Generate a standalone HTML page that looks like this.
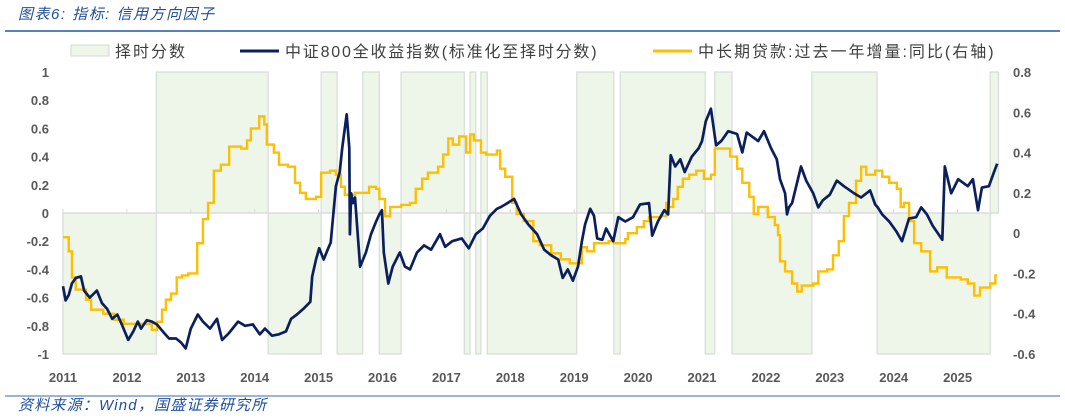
<!DOCTYPE html>
<html><head><meta charset="utf-8"><style>
body{margin:0;background:#fff;width:1065px;height:415px;overflow:hidden;font-family:"Liberation Sans","Noto Sans CJK SC",sans-serif}
svg text{font-family:"Liberation Sans","Noto Sans CJK SC",sans-serif}
</style></head><body>
<svg id="chart" width="1065" height="415" viewBox="0 0 1065 415">
<text x="18" y="19" font-size="15" font-style="italic" fill="#1f4e9c" letter-spacing="1.5">图表6:  指标:  信用方向因子</text>
<line x1="5" y1="31" x2="1060" y2="31" stroke="#1f56a8" stroke-width="1.5"/>
<g id="plot"></g>
<g>
<rect x="71" y="45" width="38" height="11" fill="#eef6ea" stroke="#d4d8d4"/>
<text x="115" y="57" font-size="16" fill="#404040" letter-spacing="2">择时分数</text>
<line x1="240" y1="51" x2="279" y2="51" stroke="#0b1f5c" stroke-width="3"/>
<text x="285" y="57" font-size="16" fill="#404040" letter-spacing="1.8">中证800全收益指数(标准化至择时分数)</text>
<line x1="653" y1="51" x2="692" y2="51" stroke="#ffbf00" stroke-width="3"/>
<text x="698" y="57" font-size="16" fill="#404040" letter-spacing="2">中长期贷款:过去一年增量:同比(右轴)</text>
</g>
<line x1="5" y1="396" x2="1060" y2="396" stroke="#7a9ccc" stroke-width="1.5"/>
<text x="18" y="410" font-size="15" font-style="italic" fill="#1f4e9c" letter-spacing="1.2">资料来源：Wind，国盛证券研究所</text>
</svg>
<script>
const scoreBreaks=[2011.0,2012.46,2014.21,2015.04,2015.29,2015.69,2015.95,2016.29,2017.28,2017.37,2017.46,2017.54,2017.64,2019.04,2019.62,2019.72,2021.05,2021.20,2021.47,2022.72,2023.74,2025.51,2025.64];
const scoreValues=[-1,1,-1,1,-1,1,-1,1,-1,1,-1,1,-1,1,-1,1,-1,1,-1,1,-1,1];
const loanDates=[2011.00,2011.09,2011.14,2011.20,2011.36,2011.44,2011.63,2011.80,2011.95,2012.39,2012.47,2012.55,2012.61,2012.69,2012.78,2012.86,2012.96,2013.10,2013.19,2013.27,2013.36,2013.47,2013.60,2013.79,2013.88,2013.94,2014.07,2014.15,2014.19,2014.30,2014.38,2014.52,2014.63,2014.71,2014.80,2014.96,2015.04,2015.18,2015.27,2015.35,2015.41,2015.57,2015.79,2015.90,2015.95,2016.04,2016.12,2016.29,2016.43,2016.52,2016.62,2016.71,2016.87,2016.95,2017.03,2017.10,2017.20,2017.31,2017.37,2017.43,2017.54,2017.62,2017.79,2017.84,2017.92,2018.03,2018.10,2018.21,2018.36,2018.46,2018.64,2018.79,2018.93,2019.12,2019.20,2019.31,2019.54,2019.62,2019.80,2019.84,2019.98,2020.09,2020.17,2020.36,2020.44,2020.47,2020.55,2020.62,2020.70,2020.80,2020.91,2021.03,2021.14,2021.20,2021.36,2021.44,2021.55,2021.63,2021.74,2021.81,2021.88,2022.03,2022.14,2022.19,2022.22,2022.30,2022.41,2022.49,2022.56,2022.67,2022.74,2022.82,2022.96,2023.05,2023.14,2023.22,2023.30,2023.41,2023.49,2023.57,2023.71,2023.82,2023.93,2024.05,2024.11,2024.16,2024.24,2024.32,2024.43,2024.57,2024.68,2024.83,2025.05,2025.16,2025.26,2025.35,2025.51,2025.59];
const loanValues=[-0.02,-0.09,-0.22,-0.28,-0.33,-0.38,-0.40,-0.43,-0.45,-0.48,-0.44,-0.38,-0.33,-0.30,-0.22,-0.21,-0.20,-0.05,0.07,0.15,0.31,0.34,0.43,0.42,0.46,0.52,0.58,0.54,0.44,0.40,0.34,0.33,0.25,0.20,0.17,0.18,0.30,0.31,0.29,0.23,0.19,0.20,0.23,0.22,0.17,0.085,0.13,0.14,0.15,0.22,0.27,0.30,0.33,0.39,0.47,0.44,0.48,0.40,0.49,0.46,0.40,0.39,0.41,0.32,0.28,0.15,0.095,0.06,-0.04,-0.06,-0.10,-0.13,-0.15,-0.07,-0.09,-0.05,-0.04,-0.05,-0.03,0.00,0.03,0.06,0.08,0.085,0.15,0.13,0.17,0.23,0.27,0.29,0.31,0.27,0.29,0.42,0.42,0.38,0.32,0.25,0.18,0.095,0.13,0.08,0.04,-0.01,-0.14,-0.19,-0.25,-0.29,-0.26,-0.26,-0.25,-0.19,-0.18,-0.11,-0.04,0.085,0.15,0.26,0.33,0.29,0.31,0.28,0.25,0.22,0.13,0.15,0.06,-0.05,-0.09,-0.19,-0.17,-0.22,-0.23,-0.25,-0.31,-0.27,-0.25,-0.21];
const csiDates=[2011.00,2011.04,2011.09,2011.14,2011.20,2011.28,2011.33,2011.42,2011.53,2011.61,2011.69,2011.77,2011.85,2011.92,2012.02,2012.10,2012.17,2012.22,2012.31,2012.39,2012.47,2012.58,2012.66,2012.77,2012.85,2012.92,2013.00,2013.11,2013.19,2013.30,2013.41,2013.49,2013.60,2013.74,2013.85,2013.97,2014.08,2014.16,2014.27,2014.38,2014.49,2014.57,2014.66,2014.76,2014.87,2014.90,2014.96,2015.01,2015.08,2015.15,2015.19,2015.23,2015.27,2015.33,2015.37,2015.41,2015.44,2015.48,2015.49,2015.51,2015.54,2015.57,2015.65,2015.74,2015.82,2015.90,2015.95,2015.99,2016.02,2016.09,2016.16,2016.27,2016.35,2016.43,2016.54,2016.65,2016.76,2016.90,2016.98,2017.09,2017.24,2017.35,2017.46,2017.57,2017.68,2017.79,2017.84,2017.92,2018.06,2018.17,2018.28,2018.42,2018.53,2018.64,2018.75,2018.82,2018.90,2018.98,2019.06,2019.12,2019.17,2019.25,2019.31,2019.36,2019.44,2019.50,2019.61,2019.69,2019.80,2019.92,2020.03,2020.17,2020.22,2020.31,2020.41,2020.47,2020.51,2020.58,2020.66,2020.73,2020.84,2020.95,2021.00,2021.06,2021.14,2021.22,2021.30,2021.41,2021.55,2021.63,2021.70,2021.88,2021.97,2022.08,2022.17,2022.22,2022.30,2022.33,2022.36,2022.41,2022.55,2022.63,2022.74,2022.82,2022.89,2023.00,2023.11,2023.22,2023.38,2023.49,2023.63,2023.71,2023.75,2023.82,2023.93,2024.04,2024.13,2024.24,2024.35,2024.43,2024.52,2024.61,2024.76,2024.80,2024.90,2025.01,2025.16,2025.24,2025.32,2025.38,2025.49,2025.57,2025.62];
const csiValues=[-0.52,-0.62,-0.58,-0.50,-0.46,-0.45,-0.55,-0.60,-0.55,-0.64,-0.68,-0.75,-0.72,-0.79,-0.90,-0.84,-0.77,-0.82,-0.76,-0.77,-0.79,-0.85,-0.89,-0.89,-0.92,-0.96,-0.82,-0.72,-0.77,-0.82,-0.75,-0.90,-0.85,-0.77,-0.80,-0.79,-0.86,-0.82,-0.87,-0.86,-0.84,-0.75,-0.72,-0.68,-0.63,-0.45,-0.33,-0.25,-0.33,-0.25,-0.21,-0.01,0.19,0.29,0.46,0.60,0.70,0.46,-0.15,0.14,0.07,0.11,-0.38,-0.28,-0.15,-0.06,-0.01,0.02,-0.28,-0.50,-0.38,-0.28,-0.38,-0.40,-0.28,-0.23,-0.26,-0.15,-0.24,-0.20,-0.18,-0.25,-0.15,-0.11,-0.02,0.03,0.04,0.06,0.10,-0.01,-0.08,-0.15,-0.26,-0.30,-0.33,-0.46,-0.40,-0.48,-0.38,-0.20,-0.08,0.03,-0.02,-0.18,-0.19,-0.11,-0.20,-0.03,-0.06,-0.03,0.06,0.07,-0.16,-0.06,0.02,-0.01,0.41,0.33,0.38,0.29,0.40,0.46,0.51,0.65,0.74,0.48,0.51,0.58,0.56,0.43,0.57,0.51,0.58,0.46,0.38,0.24,0.14,-0.01,0.04,0.07,0.33,0.23,0.14,0.04,0.09,0.13,0.23,0.19,0.14,0.11,0.16,0.06,0.04,-0.01,-0.06,-0.13,-0.20,-0.04,-0.03,0.04,-0.01,-0.09,-0.19,0.33,0.14,0.24,0.19,0.24,0.02,0.18,0.19,0.29,0.35];
const yearTicks=[2011,2012,2013,2014,2015,2016,2017,2018,2019,2020,2021,2022,2023,2024,2025];
const leftTicks=[1,0.8,0.6,0.4,0.2,0,-0.2,-0.4,-0.6,-0.8,-1];
const rightTicks=[0.8,0.6,0.4,0.2,0,-0.2,-0.4,-0.6];

const NS='http://www.w3.org/2000/svg';
const g=document.getElementById('plot');
const X=t=>63+(t-2011)*63.9;
const YL=v=>213-v*141;
const YR=v=>72+(0.8-v)*201.43;
function mk(tag,attrs,parent){const e=document.createElementNS(NS,tag);for(const k in attrs)e.setAttribute(k,attrs[k]);(parent||g).appendChild(e);return e;}

for(let i=0;i<scoreValues.length;i++){
  const x1=X(scoreBreaks[i]),x2=X(scoreBreaks[i+1]);
  const v=scoreValues[i];
  const y1=Math.min(YL(0),YL(v)),h=Math.abs(YL(v)-YL(0));
  const r=mk('rect',{x:x1,y:y1,width:x2-x1,height:h,fill:'#eef6ea',stroke:'#d8dcd8','stroke-width':1.2});
  
  
}
const zl=mk('line',{x1:X(2011),x2:X(2025.64),y1:YL(0),y2:YL(0),stroke:'#d9d9d9','stroke-width':1.2});


yearTicks.forEach(y=>{
  const tk=mk('line',{x1:X(y),x2:X(y),y1:YL(0),y2:YL(0)-4,stroke:'#d9d9d9'});
  
  
  const tx=mk('text',{x:X(y),y:382,'text-anchor':'middle','font-size':13,'font-weight':'bold',fill:'#595959'});
  tx.textContent=y;
  
  
});
leftTicks.forEach(v=>{
  const tx=mk('text',{x:49,y:YL(v)+5,'text-anchor':'end','font-size':13,'font-weight':'bold',fill:'#595959'});
  tx.textContent=v;
  
  
});
rightTicks.forEach(v=>{
  const tx=mk('text',{x:1013,y:YR(v)+5,'text-anchor':'start','font-size':13,'font-weight':'bold',fill:'#595959'});
  tx.textContent=v;
  
  
});
let d='';
for(let i=0;i<loanDates.length;i++){
  const x=X(loanDates[i]),y=YR(loanValues[i]);
  if(i===0)d+='M'+x+' '+y;else d+=' H'+x+' V'+y;
}
d+=' H'+X(2025.62);
const lp=mk('path',{d:d,fill:'none',stroke:'#ffbf00','stroke-width':2.4});


let d2=csiDates.map((t,i)=>(i?'L':'M')+X(t).toFixed(1)+' '+YL(csiValues[i]).toFixed(1)).join(' ');
const cp=mk('path',{d:d2,fill:'none',stroke:'#0b1f5c','stroke-width':2.7,'stroke-linejoin':'round'});


</script>
</body></html>
